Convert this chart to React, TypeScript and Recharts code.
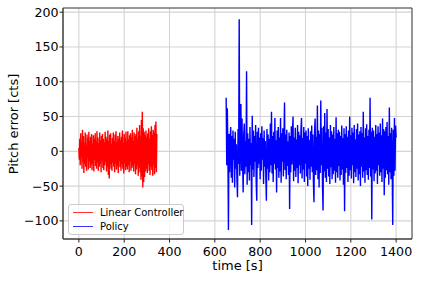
import { LineChart, Line, XAxis, YAxis, CartesianGrid, Legend, ReferenceArea } from 'recharts';

// sampling: controller log every 2 s, policy log every 2.5 s
const LINEAR_START = 0;
const LINEAR_DT = 2;
const POLICY_START = 650;
const POLICY_DT = 2.5;

const linearValues = [
  5, -12, 18, -20, 26, -8, 14, -25, 31, -15,
  22, -31, 12, -18, 27, -22, 9, -28, 24, -10,
  19, -26, 28, -14, 15, -24, 21, -19, 25, -27,
  11, -17, 23, -29, 18, -12, 26, -21, 14, -25,
  29, -16, 20, -28, 12, -22, 27, -18, 16, -30,
  22, -13, 25, -24, 18, -27, 13, -20, 28, -15,
  21, -29, 17, -23, 30, -34, 14, -39, 24, -19,
  26, -25, 11, -28, 19, -16, 27, -22, 15, -30,
  24, -18, 29, -26, 13, -21, 22, -31, 18, -14,
  27, -23, 16, -28, 21, -19, 30, -25, 12, -32,
  25, -17, 19, -27, 28, -22, 14, -26, 29, -20,
  17, -30, 23, -15, 26, -28, 20, -24, 31, -21,
  15, -29, 27, -18, 22, -33, 25, -26, 34, -20,
  18, -35, 29, -24, 38, -30, 22, -41, 45, -36,
  57, -52, 33, -44, 28, -37, 24, -29, 30, -25,
  21, -31, 26, -19, 33, -28, 18, -34, 29, -22,
  36, -27, 24, -35, 31, -20, 27, -33, 38, -24,
  43, -30, 25,
];

const policyValues = [
  77, -20, 62, 8, -113, 25, -30, 14, 35, -38,
  22, -45, 30, -12, 18, -52, 28, -25, 10, -40,
  -66, 32, -18, 190, -35, 20, 68, -28, 47, -15,
  -59, 24, 40, -33, 15, -22, 115, -48, 26, -30,
  18, -42, 35, -20, 12, -106, 51, -26, 30, -37,
  22, -15, 38, -45, -71, 28, -24, 34, -18, 20,
  -40, 26, -28, 36, -12, 19, -47, 30, -22, 15,
  -35, -71, 32, -25, 24, -42, 18, -30, 40, -20,
  57, -32, 22, -44, 28, -18, 48, -26, 16, -59,
  30, -24, 35, -38, 20, -29, 48, -45, 26, -15,
  33, -36, 18, 70, -27, 24, -40, 31, -21, 14,
  -34, 27, -83, 22, -30, 36, -19, 25, 50, -43,
  20, -28, 34, -37, 17, -24, 38, -46, 28, -20,
  23, -32, 31, 48, -39, 19, -26, 35, -44, 27,
  -18, 30, -36, 22, -50, 33, -25, 16, -41, 29,
  -22, 37, -30, 24, -45, -73, 28, 47, -34, 21,
  -27, 66, -40, 30, -52, 25, -31, 73, -20, 34,
  -48, -85, 36, -29, 55, -38, 27, -44, 61, -25,
  32, -36, 20, -47, 38, -23, 29, -40, 24, -33,
  35, -28, 18, -45, 49, -30, 26, -38, 31, -21,
  28, -42, 22, -34, 37, -26, 19, -48, 33, -86,
  25, -31, 36, -24, 21, -44, 30, -35, 50, -27,
  23, -39, 34, -20, 27, -46, 38, -30, 17, -37,
  32, -25, 40, -42, 24, -33, 29, -50, 35, -22,
  26, -38, 57, -29, 20, -45, 33, -27, 39, -34,
  22, -41, 31, -24, 77, -36, 28, -98, 34, -26,
  30, -43, 21, -32, 38, -28, 25, -47, 36, -20,
  27, -35, 40, -30, 23, -44, 47, -25, 32, -63,
  29, -38, 35, -27, 42, -33, 22, -48, 63, -30,
  26, -40, 34, -22, -106, 31, -35, 48, -28, 37,
  20,
];

const xTicks = [0, 200, 400, 600, 800, 1000, 1200, 1400];
const yTicks = [-100, -50, 0, 50, 100, 150, 200];
const seriesNames = ['Linear Controller', 'Policy'];
const seriesColors = ['#ff0000', '#0000ff'];

const FONT = 'DejaVu Sans, sans-serif';

const linearData = linearValues.map((v, i) => ({ t: LINEAR_START + i * LINEAR_DT, v }));
const policyData = policyValues.map((v, i) => ({ t: POLICY_START + i * POLICY_DT, v }));

const fmt = (v: number) => (v < 0 ? `\u2212${Math.abs(v)}` : `${v}`);

const XTick = ({ x, payload }: any) => (
  <text x={x} y={255.5} textAnchor="middle" fontSize={12.6} fontFamily={FONT} fill="#000">
    {fmt(payload.value)}
  </text>
);

const YTick = ({ y, payload }: any) => (
  <text x={58.5} y={y} textAnchor="end" dominantBaseline="central" fontSize={12.6} fontFamily={FONT} fill="#000">
    {fmt(payload.value)}
  </text>
);

const LegendBox = () => (
  <div style={{
    width: 116, height: 31, boxSizing: 'border-box', border: '1px solid #cccccc', borderRadius: 3,
    background: 'rgba(255,255,255,0.8)', fontFamily: FONT, fontSize: 10, color: '#000', position: 'relative',
  }}>
    {seriesNames.map((name, i) => (
      <div key={name} style={{ position: 'absolute', left: 4, top: 1 + i * 14.3, height: 13, display: 'flex', alignItems: 'center' }}>
        <span style={{ display: 'inline-block', width: 20, height: 1.4, background: seriesColors[i], opacity: 0.8 }} />
        <span style={{ marginLeft: 7, whiteSpace: 'nowrap' }}>{name}</span>
      </div>
    ))}
  </div>
);

export default function App() {
  return (
    <div style={{ position: 'absolute', left: 0, top: 0, width: 421, height: 281, background: '#fff' }}>
      <LineChart width={421} height={281} margin={{ top: 8, right: 9, left: 0, bottom: 0 }}>
        <CartesianGrid stroke="#d4d4d4" strokeWidth={1.1} />
        <XAxis
          dataKey="t" type="number" domain={[-70, 1470]} ticks={xTicks} allowDataOverflow
          height={42} tickSize={3.5} tick={<XTick />} tickLine={{ stroke: '#222' }} axisLine={{ stroke: '#444' }}
          label={{ content: () => (
            <text x={237.5} y={269.5} textAnchor="middle" fontSize={13} fontFamily={FONT} fill="#000">time [s]</text>
          ) }}
        />
        <YAxis
          type="number" domain={[-126, 206]} ticks={yTicks} allowDataOverflow
          width={63} tickSize={3.5} tick={<YTick />} tickLine={{ stroke: '#222' }} axisLine={{ stroke: '#444' }}
          label={{ content: () => (
            <text x={13.5} y={124} transform="rotate(-90 13.5 124)" textAnchor="middle" dominantBaseline="central"
              fontSize={13} fontFamily={FONT} fill="#000">Pitch error [cts]</text>
          ) }}
        />
        <Line data={linearData} dataKey="v" name={seriesNames[0]} stroke={seriesColors[0]} strokeWidth={1.4}
          dot={false} isAnimationActive={false} />
        <Line data={policyData} dataKey="v" name={seriesNames[1]} stroke={seriesColors[1]} strokeWidth={1.4}
          dot={false} isAnimationActive={false} />
        <ReferenceArea x1={-70} x2={1470} y1={-126} y2={206} fill="none" stroke="#444" strokeWidth={1} ifOverflow="visible" />
        <Legend layout="vertical" align="center" verticalAlign="middle" content={<LegendBox />}
          wrapperStyle={{ left: 68, top: 204, width: 116, height: 31 }} />
      </LineChart>
    </div>
  );
}
